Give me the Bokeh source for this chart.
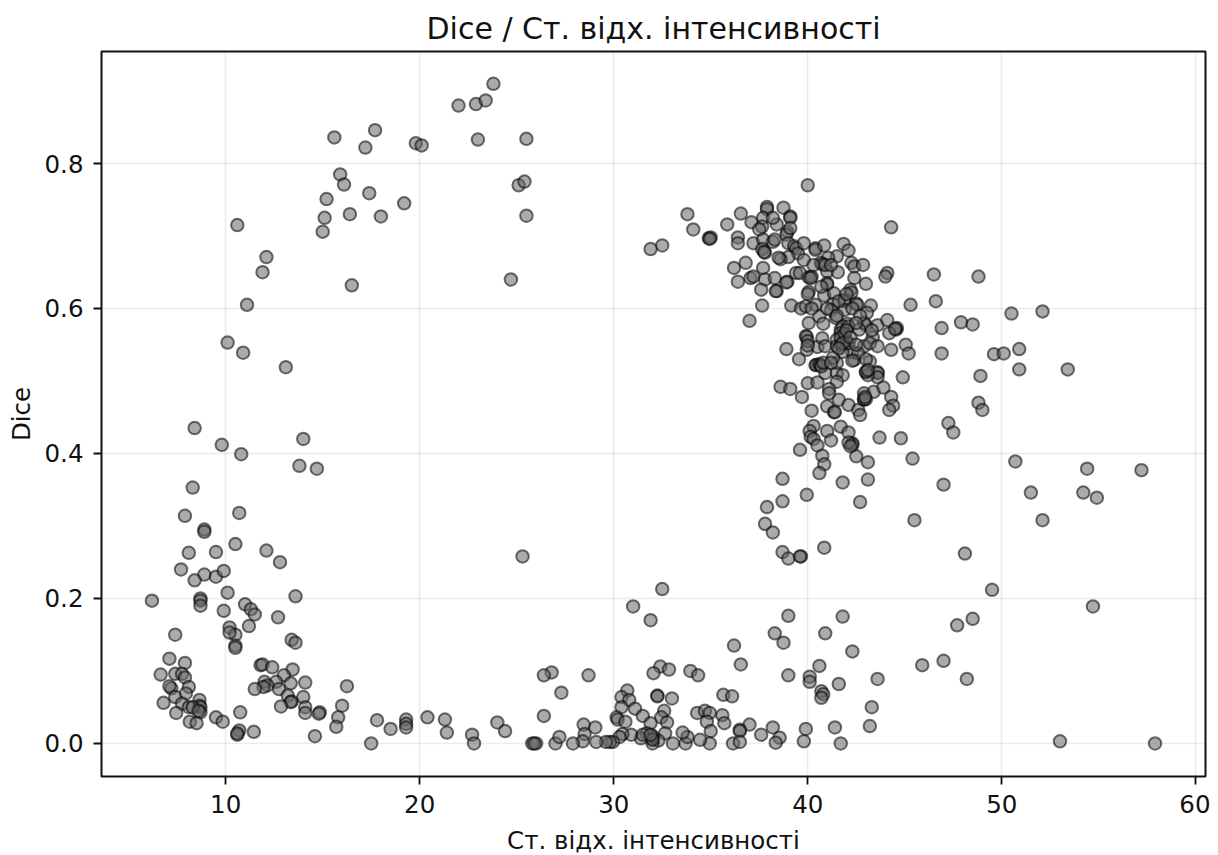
from bokeh.plotting import figure
from bokeh.models import ColumnDataSource, FixedTicker, Range1d
from bokeh.embed import file_html
from bokeh.resources import INLINE

TITLE = "Dice / Ст. відх. інтенсивності"
X_LABEL = "Ст. відх. інтенсивності"
Y_LABEL = "Dice"
x_ticks = [10, 20, 30, 40, 50, 60]
y_ticks = [0.0, 0.2, 0.4, 0.6, 0.8]

left_column = [(10.6,.715),(12.1,.671),(11.9,.65),(11.1,.605),(10.1,.553),(10.9,.539),(13.1,.519),(14.0,.42),(13.8,.383),(14.7,.379),
 (8.4,.435),(9.8,.412),(10.8,.399),(8.3,.353),(7.9,.314),(10.7,.318),(10.5,.275),(8.9,.295),(8.9,.292),(12.1,.266),(8.1,.263),(9.5,.264),
 (12.8,.25),(7.7,.24),(8.9,.233),(9.5,.23),(9.9,.238),(8.4,.225),(13.6,.203),(10.1,.208),(8.7,.2),(8.7,.197),(8.7,.19),(6.2,.197),(11,.192),
 (11.3,.185),(9.9,.183),(11.5,.178),(12.7,.174),(11.2,.162),(10.2,.16),(10.5,.15),(10.2,.153),(7.4,.15),(13.4,.143),(13.6,.139),(10.5,.135),(10.5,.132)]

low_left = [(7.1,.117),(7.9,.111),(6.65,.095),(7.4,.096),(7.75,.096),(7.9,.091),(7.2,.076),(7.1,.079),(8.1,.078),(7.95,.069),(7.4,.064),
 (6.8,.056),(7.75,.055),(8.65,.06),(8.65,.052),(8.7,.05),(8.7,.043),(8.1,.05),(8.3,.05),(7.45,.042),(8.15,.03),(8.5,.028),(8.6,.045),
 (9.5,.036),(9.85,.03),(10.75,.043),(10.7,.018),(10.6,.012),(10.6,.014),(11.45,.016),
 (11.8,.108),(11.9,.109),(12.4,.105),(13.45,.102),(13.0,.094),(14.1,.084),(13.35,.083),(12.6,.085),(12.0,.085),(12.15,.08),(11.95,.078),
 (11.5,.075),(12.75,.075),(13.2,.066),(14.0,.064),(13.4,.058),(13.35,.057),(12.85,.051),(14.1,.05),(14.1,.042),(14.85,.043),(14.8,.041),
 (14.6,.01),(16.25,.079),(16.0,.052),(15.8,.036),(15.7,.023)]

bottom_band = [(17.8,.032),(17.5,0),(18.5,.02),(19.3,.033),(19.3,.027),(19.3,.022),(20.4,.036),(21.3,.033),(21.4,.015),(22.7,.012),(22.8,0),
 (24,.029),(24.4,.017),(25.8,0),(26,0),(25.9,0),(26.8,.098),(26.4,.094),(28.7,.094),(27.3,.07),(26.4,.038),
 (30.7,.073),(30.4,.064),(30.8,.06),(30.4,.05),(31.1,.048),(30.15,.036),(30.2,.033),(30.6,.03),(31.5,.038),(32.25,.066),(32.25,.065),(33,.062),
 (32.4,.106),(32.05,.097),(32.85,.102),(33.95,.1),(34.35,.094),(35.65,.067),(36.1,.065),(36.55,.109),(36.2,.135),(39,.094),(38.75,.139),
 (32.6,.045),(32.45,.036),(32.75,.029),(31.9,.028),(34.3,.042),(34.7,.045),(34.95,.042),(34.8,.03),(35.6,.039),(35.7,.028),(35,.017),(37,.026),
 (36.5,.019),(36.5,.017),(37.6,.012),(38.2,.022),(38.55,.008),(38.35,.001),(36.15,0),(36.5,.002),(34.95,0),(34.45,.005),(33.7,0),(33.8,.009),
 (33.55,.015),(33.05,0),(32.65,.014),(32.3,.004),(32,0),(32,.007),(32,.01),(31.7,.014),(31.4,.007),(30.9,.012),(30.45,.013),(30.3,.009),
 (29.95,.002),(29.8,.002),(29.6,.002),(29.1,.002),(29.05,.022),(28.45,.026),(28.5,.013),(28.4,.003),(27.9,0),(27,0),(27.2,.009)]

low_right = [(39,.176),(38.3,.152),(40.1,.092),(40.1,.085),(40.6,.107),(40.7,.072),(40.8,.068),(40.7,.063),(40.9,.152),(41.6,.082),(41.4,.022),
 (41.7,0),(39.9,.02),(39.8,.003),(41.8,.175),(42.3,.127),(43.6,.089),(43.3,.05),(43.2,.024),(45.9,.108),(47,.114),(47.7,.163),(48.5,.172),
 (48.2,.089),(49.5,.212),(48.1,.262),(53,.003),(54.7,.189),(57.9,0),(31,.189),(31.9,.17),(32.5,.213)]

upper_arc = [(15,.706),(15.1,.725),(15.2,.751),(15.6,.836),(15.9,.785),(16.1,.771),(16.4,.73),(16.5,.632),(17.2,.822),(17.4,.759),(17.7,.846),
 (18,.727),(19.2,.745),(19.8,.828),(20.1,.825),(22,.88),(22.9,.882),(23,.833),(23.4,.887),(23.8,.91),(24.7,.64),(25.1,.77),(25.4,.775),
 (25.5,.728),(25.5,.834),(25.3,.258)]

right_scatter = [(46.6,.61),(48.8,.644),(47.9,.581),(48.5,.578),(50.5,.593),(52.1,.596),(49.6,.537),(50.1,.538),(50.9,.544),(50.9,.516),(53.4,.516),
 (48.9,.507),(48.8,.47),(49,.46),(50.7,.389),(51.5,.346),(52.1,.308),(54.2,.346),(54.4,.379),(54.9,.339),(57.2,.377),(46.5,.647)]

cluster_mid = [(38.9,.544),(39.55,.53),(39.95,.543),(40.5,.547),(40.4,.522),(40.45,.522),(40.6,.523),(40.67,.522),(40.9,.511),(41.5,.511),(41.5,.525),
 (41.8,.508),(41.5,.499),(42.4,.529),(43,.512),(43.6,.512),(43.6,.511),(43.6,.505),(43.1,.508),(43.2,.527),(44.9,.505),(44.3,.543),(45.05,.55),
 (45.2,.538),(46.9,.538),(38.6,.492),(39.1,.489),(39.7,.478),(40,.497),(40.5,.498),(41.1,.489),(41.1,.483),(41.6,.474),(42.1,.467),(42.6,.46),
 (42.7,.453),(42.9,.483),(42.9,.475),(42.9,.474),(43.4,.485),(43.9,.491),(44.3,.478),(44.4,.466),(44.2,.46),(40.2,.459),(41,.465),(41.35,.457),
 (41.4,.457),(40.3,.438),(40.1,.431),(41,.431),(41.7,.437),(42.1,.429),(40.15,.423),(40.3,.42),(41.2,.418),(42.3,.414),(42.3,.412),(40.5,.411),
 (43.7,.422),(44.8,.421),(47.25,.442),(47.5,.429),(39.6,.405),(40.75,.397),(42.5,.396),(43.1,.388),(40.85,.385),(40.6,.373),(45.4,.393),
 (38.7,.365),(41.8,.36),(43.1,.364),(47,.357),(39.95,.343),(38.7,.334),(37.9,.326),(42.7,.333),(37.8,.303),(38.2,.291),(45.5,.308),
 (38.7,.264),(39,.255),(39.65,.258),(39.6,.258),(40.85,.27)]

cluster_top = [(40,.77),(44.3,.712),(37.9,.74),(37.9,.737),(38.75,.739),(36.55,.731),(35.85,.716),(37.1,.719),(37.7,.725),(37.65,.713),(37.5,.709),
 (38.4,.716),(38.2,.725),(39.1,.727),(39.1,.725),(38.95,.706),(38.9,.702),(39.1,.711),(36.4,.698),(37.2,.69),(37.7,.695),(38.2,.692),(38.3,.695),
 (37.65,.682),(37.8,.677),(37.75,.678),(39,.69),(39.3,.686),(39.4,.683),(39.5,.676),(39.8,.69),(40.4,.683),(40.4,.681),(40.85,.687),(41.85,.689),
 (42.1,.68),(41.5,.672),(41.05,.67),(40.67,.663),(40.75,.661),(39.8,.667),(39,.671),(38.6,.668),(38.5,.67),(42.25,.663),(42.4,.658),(42.85,.66),
 (36.2,.656),(36.8,.663),(37.7,.656),(36.4,.637),(37.05,.642),(37.2,.644),(37.8,.64),(38.3,.642),(38.95,.637),(38.9,.636),(39.4,.649),(39.6,.649),
 (40.05,.643),(40.2,.644),(40.15,.642),(41,.651),(41.55,.65),(41,.635),(41,.633),(42.4,.642),(43,.634),(44.1,.649),(44,.644),(37.6,.626),(38.4,.624),
 (38.35,.624),(37.65,.604),(39.15,.604),(37,.583),(40.05,.623),(40,.62),(40.85,.618),(41.35,.621),(41.9,.612),(41.9,.61),(42.2,.626),(42.25,.622),
 (42.5,.607),(42.55,.605),(43.25,.604),(43.05,.594),(39.65,.6),(39.9,.603),(40.4,.605),(41.3,.606),(41.2,.598),(41.9,.598),(40.6,.589),(41.45,.587),
 (40.05,.58),(40.8,.579),(41.7,.571),(42.05,.579),(41.8,.575),(42.1,.575),(43,.577),(42.9,.58),(43.6,.577),(44.1,.584),(44.6,.573),(44.55,.571),
 (44.2,.566),(43.35,.56),(42.65,.571),(45.3,.605),(46.9,.573),(39.9,.562),(39.95,.561),(40.75,.559),(41.7,.566),(41.5,.557),
 (40.9,.548),(41.5,.548),(41.7,.55),(42,.555),(42.3,.54),(42.9,.548),(43.2,.552),(43.6,.548),(41.8,.54),(42.1,.552),(42.6,.538),(41.3,.532),
 (40,.555),(40,.549),(43,.53),(42.3,.528),(33.8,.73),(34.1,.709),(34.9,.697),(35,.698),(34.95,.696),(32.5,.687),(31.9,.682),(36.4,.69)]

cluster_dense = [(41.7,.56),(41.9,.565),(42,.57),(41.8,.552),(42.2,.56),(41.6,.545),(42.5,.55),(43,.475),(42.95,.478),(43,.513),(43.1,.515),
 (40.7,.52),(40.8,.525),(41.2,.525),(42.1,.415),(42.2,.41),(44.5,.572),(40.3,.66),(40.9,.66),(41.2,.66),(41.6,.61),(42,.62),(42.3,.6),(42.7,.59),
 (41,.6),(41.5,.59),(40.2,.6),(40.7,.63),(43.3,.57),(42.5,.58),(31.5,.012),(32,.005),(31.9,.012)]

groups = [left_column, low_left, bottom_band, low_right, upper_arc, right_scatter, cluster_mid, cluster_top, cluster_dense]
points = [pt for g in groups for pt in g]
source = ColumnDataSource(dict(x=[pt[0] for pt in points], y=[pt[1] for pt in points]))

p = figure(frame_width=1104, frame_height=725, output_backend="svg", toolbar_location=None,
           x_range=Range1d(3.6, 60.5), y_range=Range1d(-0.0456, 0.9545),
           min_border_left=101, min_border_top=51, min_border_right=5, min_border_bottom=78,
           background_fill_color="white", border_fill_color="white",
           title=TITLE, x_axis_label=X_LABEL, y_axis_label=Y_LABEL)

p.scatter("x", "y", source=source, size=12.5, fill_color="#666666", fill_alpha=0.55,
          line_color="black", line_alpha=0.55, line_width=2)

p.title.align = "center"
p.title.text_font = "DejaVu Sans"
p.title.text_font_size = "30px"
p.title.text_font_style = "normal"
p.title.text_color = "#111111"
p.title.standoff = 11

for ax in (p.xaxis[0], p.yaxis[0]):
    ax.axis_label_text_font = "DejaVu Sans"
    ax.axis_label_text_font_size = "24.5px"
    ax.axis_label_text_font_style = "normal"
    ax.axis_label_text_color = "#111111"
    ax.major_label_text_font = "DejaVu Sans"
    ax.major_label_text_font_size = "24.5px"
    ax.major_label_text_color = "#111111"
    ax.major_tick_out = 8
    ax.major_tick_in = 0
    ax.minor_tick_out = 0
    ax.minor_tick_in = 0
    ax.major_tick_line_width = 1.8
    ax.major_tick_line_color = "#111111"
    ax.axis_line_color = None
    ax.major_label_standoff = 10

p.xaxis[0].ticker = FixedTicker(ticks=x_ticks)
p.yaxis[0].ticker = FixedTicker(ticks=y_ticks)
p.yaxis[0].major_label_overrides = {v: f"{v:.1f}" for v in y_ticks}
p.xaxis[0].axis_label_standoff = 10
p.yaxis[0].axis_label_standoff = 6

p.grid.grid_line_color = "#000000"
p.grid.grid_line_alpha = 0.08
p.grid.grid_line_width = 1.5
p.outline_line_color = "#111111"
p.outline_line_width = 2
p.outline_line_alpha = 1.0

open("out.html", "w").write(file_html(p, INLINE))
